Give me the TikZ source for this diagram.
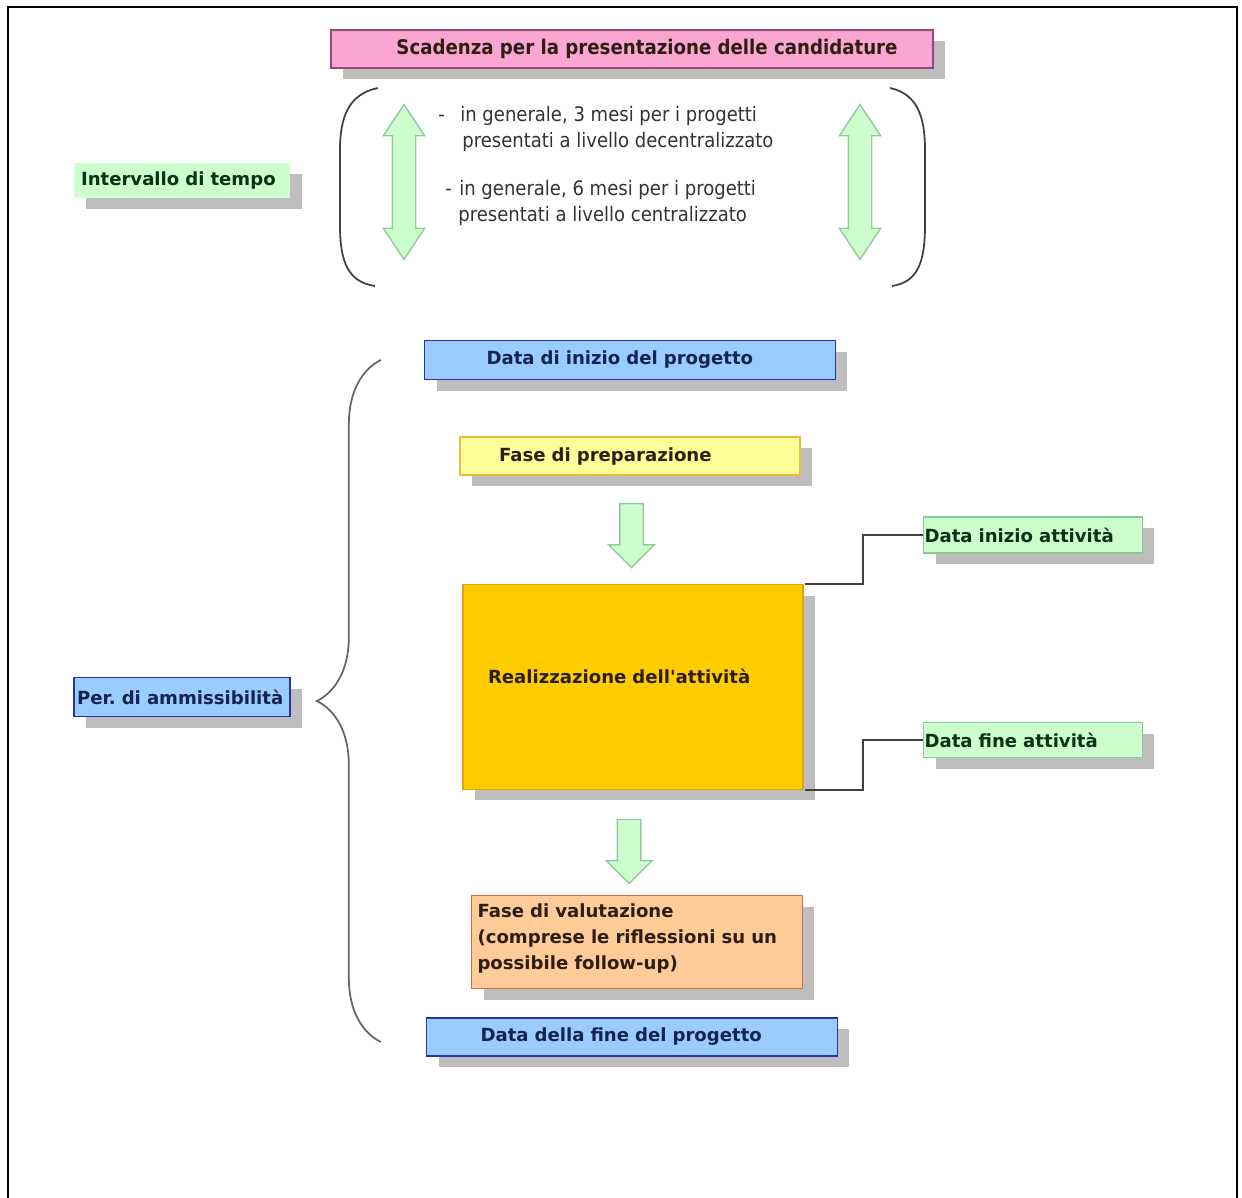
\documentclass[tikz,border=0pt]{standalone}
\usepackage{fontspec}
\setmainfont{DejaVu Sans}
\newfontfamily\narrowfont{DejaVu Sans Condensed}
\usetikzlibrary{shapes.arrows,shadows,decorations.pathreplacing,calc}

\definecolor{pinkfill}{RGB}{250,165,210}
\definecolor{pinkline}{RGB}{150,70,120}
\definecolor{greenfill}{RGB}{204,255,204}
\definecolor{greenline}{RGB}{140,200,150}
\definecolor{bluefill}{RGB}{153,204,255}
\definecolor{blueline}{RGB}{40,50,170}
\definecolor{yellowfill}{RGB}{255,255,153}
\definecolor{yellowline}{RGB}{230,190,60}
\definecolor{orangefill}{RGB}{255,204,0}
\definecolor{orangeline}{RGB}{230,160,30}
\definecolor{peachfill}{RGB}{255,204,153}
\definecolor{peachline}{RGB}{220,110,50}
\definecolor{arrowline}{RGB}{150,200,160}
\definecolor{shadowgray}{RGB}{190,190,190}
\definecolor{bluetext}{RGB}{20,35,80}
\definecolor{greentext}{RGB}{10,50,20}
\definecolor{darktext}{RGB}{45,30,20}

\tikzset{
  card/.style={draw, line width=0.8pt, inner sep=0pt, text=darktext,
    font=\bfseries\fontsize{10.3}{14.6}\selectfont,
    drop shadow={shadow xshift=0.24cm, shadow yshift=-0.22cm, fill=shadowgray, opacity=1}},
  bluecard/.style={card, fill=bluefill, draw=blueline, text=bluetext},
  greencard/.style={card, fill=greenfill, draw=greenline, text=greentext},
  downarrow/.style={single arrow, shape border rotate=270, draw=arrowline, fill=greenfill,
    line width=0.8pt, inner sep=0.22cm, minimum height=1.28cm,
    single arrow head extend=0.22cm, single arrow tip angle=90},
  updownarrow/.style={double arrow, shape border rotate=90, draw=arrowline, fill=greenfill,
    line width=0.8pt, inner sep=0.22cm, minimum height=3.1cm,
    double arrow head extend=0.18cm, double arrow tip angle=67},
  bracket/.style={draw=black!75, line width=1pt},
  link/.style={draw=black!75, line width=1.2pt}
}

\begin{document}
\begin{tikzpicture}[x=0.02cm,y=-0.02cm]

	%picture in pixels of the scan, y grows downwards
	\useasboundingbox (0,0) rectangle (1242,1198);

	%frame of the page
	\draw [line width=1.2pt] (8,1198) -- (8,7) -- (1237,7) -- (1237,1198);

	%deadline, top
	\node [card, fill=pinkfill, draw=pinkline, minimum width=12.04cm, minimum height=0.76cm,
		font=\narrowfont\bfseries\fontsize{11.5}{13}\selectfont] (scadenza) at (632,49)
		{\hspace*{0.6cm}Scadenza per la presentazione delle candidature};

	%time span, left
	\node [card, fill=greenfill, draw=none, text=greentext, minimum width=4.32cm, minimum height=0.7cm,
		text width=4.04cm, inner xsep=0.14cm, align=left] (intervallo) at (182,180)
		{Intervallo di tempo};

	%the two brackets round the time span
	\draw [bracket] (378,88) .. controls (348,94) and (340,118) .. (340,150) -- (340,225)
		.. controls (340,262) and (348,282) .. (375,286);
	\draw [bracket] (890,88) .. controls (918,94) and (925,118) .. (925,150) -- (925,225)
		.. controls (925,262) and (918,282) .. (892,286);

	%green double arrows
	\foreach \arrowname/\xpos in {arrowleft/404, arrowright/860}
	{
		\node [updownarrow] (\arrowname) at (\xpos,182) {};
	}

	%months
	\node [anchor=north west, align=left, text=black!80, inner sep=0pt,
		font=\narrowfont\fontsize{11.4}{14.8}\selectfont] (mesitre) at (438,106)
		{\makebox[0.44cm][l]{-}in generale, 3 mesi per i progetti\\
		 \hspace*{0.48cm}presentati a livello decentralizzato};
	\node [anchor=north west, align=left, text=black!80, inner sep=0pt,
		font=\narrowfont\fontsize{11.4}{14.8}\selectfont] (mesisei) at (445,180)
		{\makebox[0.28cm][l]{-}in generale, 6 mesi per i progetti\\
		 \hspace*{0.26cm}presentati a livello centralizzato};

	%eligibility period, blue boxes
	\node [bluecard, minimum width=8.22cm, minimum height=0.78cm,
		text width=5.74cm, inner xsep=1.24cm, align=left] (inizio) at (630,360)
		{Data di inizio del progetto};
	\node [bluecard, minimum width=8.22cm, minimum height=0.76cm,
		text width=6.06cm, inner xsep=1.08cm, align=left] (fine) at (632,1037)
		{Data della fine del progetto};
	\node [bluecard, minimum width=4.32cm, minimum height=0.78cm,
		text width=4.2cm, inner xsep=0.06cm, align=left] (ammissibilita) at (182,697)
		{Per.\ di ammissibilità};

	%the phases
	\node [card, fill=yellowfill, draw=yellowline, minimum width=6.8cm, minimum height=0.76cm,
		text width=5.24cm, inner xsep=0.78cm, align=left] (preparazione) at (630,456)
		{Fase di preparazione};
	\node [card, fill=orangefill, draw=orangeline, minimum width=6.8cm, minimum height=4.1cm,
		text width=5.8cm, inner xsep=0.5cm, align=left] (realizzazione) at (633,687)
		{Realizzazione dell\textquotesingle attività\\[-0.1cm]\mbox{}};
	\node [card, fill=peachfill, draw=peachline, minimum width=6.62cm, minimum height=1.86cm,
		text width=6.38cm, inner xsep=0.12cm, align=left] (valutazione) at (637,942)
		{Fase di valutazione\\(comprese le riflessioni su un\\possibile follow-up)\\[-0.3cm]\mbox{}};

	%activity dates, right
	\node [greencard, minimum width=4.38cm, minimum height=0.72cm,
		text width=4.34cm, inner xsep=0.02cm, align=left] (inizioatt) at (1033,535)
		{Data inizio attività};
	\node [greencard, minimum width=4.38cm, minimum height=0.7cm,
		text width=4.34cm, inner xsep=0.02cm, align=left] (fineatt) at (1033,740)
		{Data fine attività};

	%arrows between the phases
	\node [downarrow] (frecciauno) at ($(preparazione.south)!0.5!(realizzazione.north)$) {};
	\node [downarrow, xshift=-0.12cm] (frecciadue) at ($(realizzazione.south)!0.53!(valutazione.north)$) {};

	%links from the activity to its dates
	\foreach \corner/\datenode in {north east/inizioatt, south east/fineatt}
	{
		\draw [link] ([xshift=1pt]realizzazione.\corner) -- ++(58,0) |- (\datenode.west);
	}

	%brace over the eligibility period
	\draw [bracket, black!60, decorate, decoration={brace, amplitude=1.28cm}]
		([xshift=-0.9cm, yshift=-0.1cm]fine.west) -- ([xshift=-0.86cm]inizio.west);

\end{tikzpicture}
\end{document}
